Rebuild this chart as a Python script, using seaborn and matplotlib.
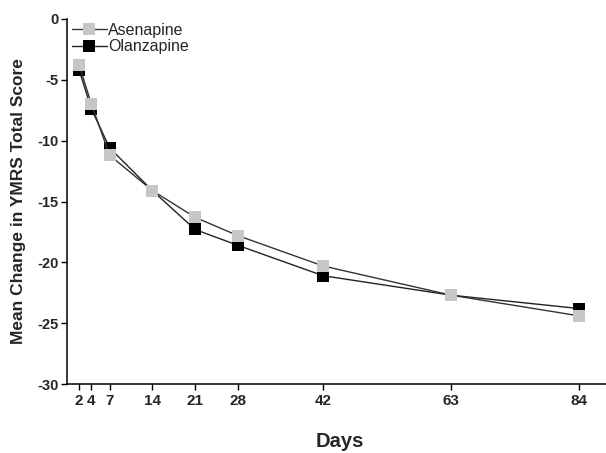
import matplotlib
matplotlib.use('Agg')
import matplotlib.pyplot as plt
import pandas as pd
import seaborn as sns

days = [2, 4, 7, 14, 21, 28, 42, 63, 84]
asenapine = [-3.8, -7.0, -11.2, -14.1, -16.3, -17.8, -20.3, -22.7, -24.4]
olanzapine = [-4.2, -7.4, -10.6, -14.1, -17.3, -18.6, -21.1, -22.7, -23.8]
y_ticks = [0, -5, -10, -15, -20, -25, -30]

sns.set_theme(style='ticks')
plt.rcParams['font.family'] = ['Liberation Sans', 'DejaVu Sans']
plt.rcParams['axes.unicode_minus'] = False

df_a = pd.DataFrame({'Days': days, 'Change': asenapine})
df_o = pd.DataFrame({'Days': days, 'Change': olanzapine})

fig = plt.figure(figsize=(6.06, 4.53), dpi=100)
ax = fig.add_axes([67 / 606, 69 / 453, 1 - 67 / 606, 365 / 453])

# olanzapine first so the grey squares sit on top, as in the original
sns.lineplot(data=df_o, x='Days', y='Change', ax=ax, color='#222222', lw=1.0,
             marker='s', markersize=8.5, markerfacecolor='black',
             markeredgecolor='black', markeredgewidth=0, label='Olanzapine')
sns.lineplot(data=df_a, x='Days', y='Change', ax=ax, color='#333333', lw=1.0,
             marker='s', markersize=8.5, markerfacecolor='#c6c6c6',
             markeredgecolor='#c6c6c6', markeredgewidth=0, label='Asenapine')

ax.set_xlim(0, 88.4)
ax.set_ylim(-30, 0)
ax.set_xticks(days)
ax.set_xticklabels([str(d) for d in days], fontweight='bold', fontsize=11)
ax.set_yticks(y_ticks)
ax.set_yticklabels([str(v) for v in y_ticks], fontweight='bold', fontsize=10.5)
ax.tick_params(direction='out', length=4, width=1, color='black', pad=2)
ax.tick_params(axis='x', pad=3.5)

sns.despine(ax=ax)
for s in ['left', 'bottom']:
    ax.spines[s].set_color('black')
    ax.spines[s].set_linewidth(1.1)

ax.set_xlabel('Days', fontsize=14.5, fontweight='bold')
ax.set_ylabel('Mean Change in YMRS Total Score', fontsize=12.5, fontweight='bold')
ax.xaxis.set_label_coords((340 - 67) / 539, -48 / 365)
ax.yaxis.set_label_coords(-41 / 539, 0.5)

handles, labels = ax.get_legend_handles_labels()
order = [labels.index('Asenapine'), labels.index('Olanzapine')]
ax.legend([handles[i] for i in order], [labels[i] for i in order],
          loc='upper left', bbox_to_anchor=(-0.012, 1.02), frameon=False,
          fontsize=11.5, handlelength=2.2, handletextpad=0.1,
          labelspacing=0.1, borderaxespad=0.3)

fig.savefig('out.png', dpi=100)
